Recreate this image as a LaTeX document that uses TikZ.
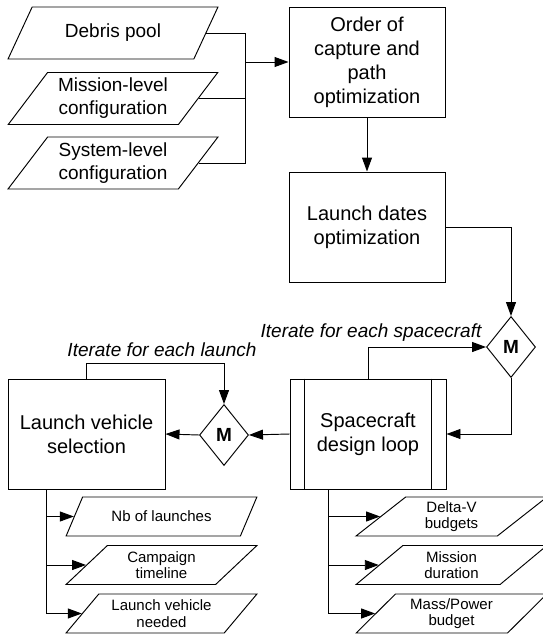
\documentclass[tikz,border=0pt]{standalone}
\usepackage{fontspec}
\setmainfont{Liberation Sans}
\usetikzlibrary{shapes.geometric,arrows.meta,calc}
\begin{document}
\begin{tikzpicture}[x=1pt,y=-1pt,
  every node/.style={align=center},
  line/.style={line width=0.95pt},
  arr/.style={line width=0.95pt,-{Triangle[length=14pt,width=10pt]}},
  proc/.style={draw,line width=0.95pt,minimum width=156pt,minimum height=110pt,inner sep=0pt,font=\fontsize{20}{24}\selectfont},
  datain/.style={draw,line width=0.95pt,trapezium,trapezium left angle=51,trapezium right angle=129,trapezium stretches=true,minimum width=210pt,minimum height=52pt,inner sep=0pt,font=\fontsize{19}{23}\selectfont},
  dataout/.style={draw,line width=0.95pt,trapezium,trapezium left angle=46.5,trapezium right angle=133.5,trapezium stretches=true,minimum width=191pt,minimum height=39pt,inner sep=0pt,font=\fontsize{15}{16.5}\selectfont},
  merge/.style={draw,diamond,line width=0.95pt,minimum width=49pt,minimum height=61pt,inner sep=0pt,font=\bfseries\fontsize{19}{19}\selectfont},
  lbl/.style={font=\itshape\fontsize{19}{23}\selectfont}
]
\useasboundingbox (0,0) rectangle (542,637);

% inputs
\node[datain] (deb) at (113,33) {Debris pool};
\node[datain] (mis) at (113,98.5) {Mission-level\\configuration};
\node[datain] (sys) at (113,163) {System-level\\configuration};

% process boxes
\node[proc] (ord) at (367,62) {Order of\\capture and\\path\\optimization};
\node[proc] (ld) at (367,227) {Launch dates\\optimization};
\node[proc] (sc) at (368,434) {Spacecraft\\design loop};
\node[proc,minimum width=157pt] (lv) at (86.5,434) {Launch vehicle\\selection};
\draw[line] ([xshift=15pt]sc.north west) -- ([xshift=15pt]sc.south west);
\draw[line] ([xshift=-15pt]sc.north east) -- ([xshift=-15pt]sc.south east);

% merges
\node[merge] (rdia) at (511,347) {M};
\node[merge] (ldia) at (224,435) {M};

% labels
\node[lbl,anchor=base] (l1) at (371,337) {Iterate for each spacecraft};
\node[lbl,anchor=base] (l2) at (162,356) {Iterate for each launch};

% outputs
\node[dataout] (o1) at (161.5,516.5) {Nb of launches};
\node[dataout] (o2) at (161.5,565) {Campaign\\timeline};
\node[dataout] (o3) at (161.5,613.5) {Launch vehicle\\needed};
\node[dataout] (o4) at (451.5,516.5) {Delta-V\\budgets};
\node[dataout] (o5) at (451.5,565) {Mission\\duration};
\node[dataout] (o6) at (451.5,613.5) {Mass/Power\\budget};

% input bus
\coordinate (busx) at (245,0);
\draw[line] (deb.east) -- (deb.east -| busx) -- (sys.east -| busx) -- (sys.east);
\draw[line] (mis.east) -- (mis.east -| busx);
\draw[arr] (ord.west -| busx) -- (ord.west);

% main flow
\draw[arr] (ord.south) -- (ld.north);
\draw[arr] (ld.east) -| (rdia.north);
\draw[arr] (rdia.south) |- (sc.east);
\draw[arr] (sc.north) |- (rdia.west);
\draw[arr] (sc.west) -- (ldia.east);
\draw[arr] (ldia.west) -- (lv.east);
\coordinate (lvy) at (0,363);
\draw[arr] (lv.north) -- (lv.north |- lvy) -| (ldia.north);

% output buses
\coordinate (lb) at ([xshift=39pt]lv.south west);
\draw[arr] (lb) |- (o1.west);
\draw[arr] (lb) |- (o2.west);
\draw[arr] (lb) |- (o3.west);
\coordinate (rb) at ([xshift=39pt]sc.south west);
\draw[arr] (rb) |- (o4.west);
\draw[arr] (rb) |- (o5.west);
\draw[arr] (rb) |- (o6.west);
\end{tikzpicture}
\end{document}
